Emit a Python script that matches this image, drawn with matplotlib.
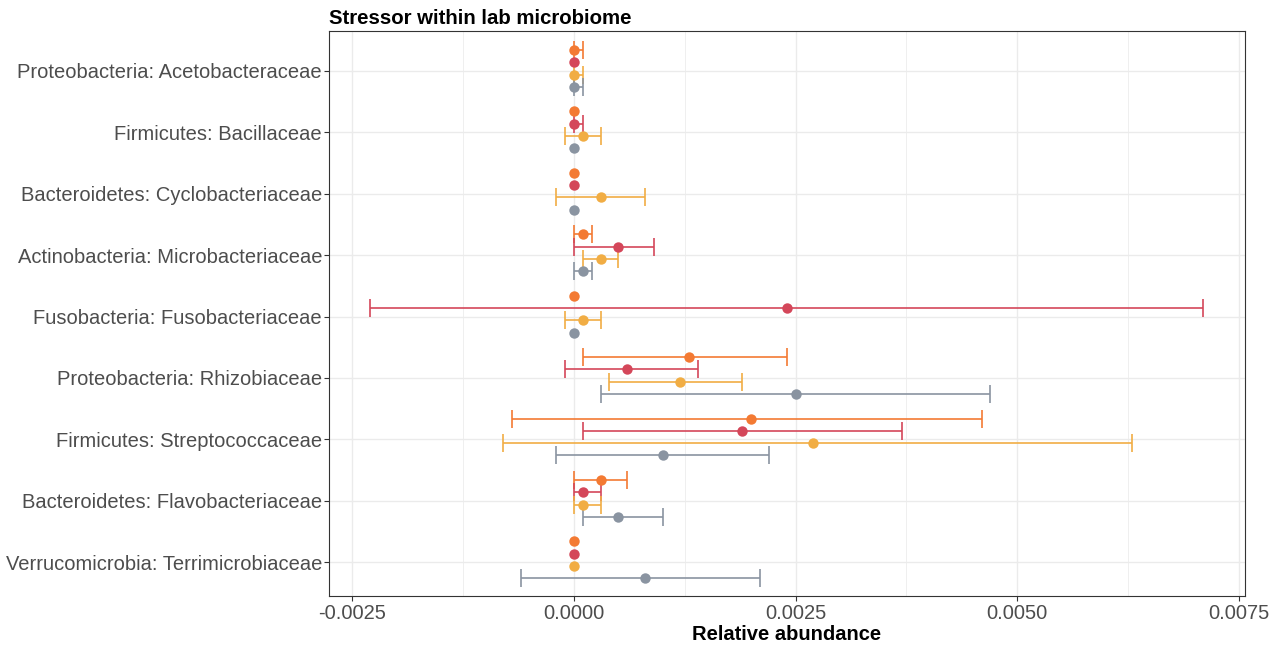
import matplotlib
matplotlib.use("Agg")
import matplotlib.pyplot as plt
import numpy as np

plt.rcParams["font.family"] = ["Liberation Sans", "DejaVu Sans"]

families = [
    "Proteobacteria: Acetobacteraceae",
    "Firmicutes: Bacillaceae",
    "Bacteroidetes: Cyclobacteriaceae",
    "Actinobacteria: Microbacteriaceae",
    "Fusobacteria: Fusobacteriaceae",
    "Proteobacteria: Rhizobiaceae",
    "Firmicutes: Streptococcaceae",
    "Bacteroidetes: Flavobacteriaceae",
    "Verrucomicrobia: Terrimicrobiaceae",
]

# mean, lower and upper bound per treatment group (one value per family, top to bottom)
orange_mean = [0.0, 0.0, 0.0, 0.0001, 0.0, 0.0013, 0.0020, 0.0003, 0.0]
orange_lo = [0.0, 0.0, 0.0, 0.0, 0.0, 0.0001, -0.0007, 0.0, 0.0]
orange_hi = [0.0001, 0.0, 0.0, 0.0002, 0.0, 0.0024, 0.0046, 0.0006, 0.0]

red_mean = [0.0, 0.0, 0.0, 0.0005, 0.0024, 0.0006, 0.0019, 0.0001, 0.0]
red_lo = [0.0, 0.0, 0.0, 0.0, -0.0023, -0.0001, 0.0001, 0.0, 0.0]
red_hi = [0.0, 0.0001, 0.0, 0.0009, 0.0071, 0.0014, 0.0037, 0.0003, 0.0]

yellow_mean = [0.0, 0.0001, 0.0003, 0.0003, 0.0001, 0.0012, 0.0027, 0.0001, 0.0]
yellow_lo = [0.0, -0.0001, -0.0002, 0.0001, -0.0001, 0.0004, -0.0008, 0.0, 0.0]
yellow_hi = [0.0001, 0.0003, 0.0008, 0.0005, 0.0003, 0.0019, 0.0063, 0.0003, 0.0]

gray_mean = [0.0, 0.0, 0.0, 0.0001, 0.0, 0.0025, 0.0010, 0.0005, 0.0008]
gray_lo = [0.0, 0.0, 0.0, 0.0, 0.0, 0.0003, -0.0002, 0.0001, -0.0006]
gray_hi = [0.0001, 0.0, 0.0, 0.0002, 0.0, 0.0047, 0.0022, 0.0010, 0.0021]

series = [
    (orange_mean, orange_lo, orange_hi, "#F37A33", -0.34),
    (red_mean, red_lo, red_hi, "#D4475A", -0.14),
    (yellow_mean, yellow_lo, yellow_hi, "#F1AD44", 0.06),
    (gray_mean, gray_lo, gray_hi, "#8A94A1", 0.26),
]

xticks = [-0.0025, 0.0, 0.0025, 0.005, 0.0075]
xticklabels = ["-0.0025", "0.0000", "0.0025", "0.0050", "0.0075"]

fig = plt.figure(figsize=(12.87, 6.47), dpi=100)
ax = fig.add_axes([0.2556, 0.0788, 0.9674 - 0.2556, 0.9521 - 0.0788])

base = np.arange(len(families))

# background grid (major at ticks, minor halfway between)
for x in np.arange(-0.00375, 0.0076, 0.00125):
    major = any(abs(x - t) < 1e-9 for t in xticks)
    ax.axvline(x, color="#EBEBEB", lw=1.0 if major else 0.55, zorder=0)
for y in base:
    ax.axhline(y, color="#EBEBEB", lw=1.0, zorder=0)

for mean, lo, hi, color, off in series:
    mean = np.asarray(mean)
    lo = np.asarray(lo)
    hi = np.asarray(hi)
    ypos = base + off
    err = np.vstack([mean - lo, hi - mean])
    has_bar = (hi - lo) > 0
    ax.errorbar(mean[has_bar], ypos[has_bar], xerr=err[:, has_bar], fmt="none",
                ecolor=color, elinewidth=1.2, capsize=6.5, capthick=1.2, zorder=2)
    ax.plot(mean, ypos, "o", color=color, markersize=7.5, markeredgewidth=0, zorder=3)

ax.set_xlim(-0.002765, 0.007573)
ax.set_ylim(8.55, -0.65)
ax.set_yticks(base)
ax.set_yticklabels(families)
ax.set_xticks(xticks)
ax.set_xticklabels(xticklabels)

ax.tick_params(axis="both", colors="#333333", labelcolor="#4D4D4D",
               labelsize=14.5, length=3.5, width=0.8)
ax.tick_params(axis="y", pad=1.5)
ax.tick_params(axis="x", pad=2.5)
for sp in ax.spines.values():
    sp.set_color("#333333")
    sp.set_linewidth(0.8)

ax.set_xlabel("Relative abundance", fontsize=14.5, fontweight="bold", labelpad=1)
ax.set_title("Stressor within lab microbiome", fontsize=14.7, fontweight="bold",
             loc="left", pad=5)

fig.savefig("out.png", dpi=100)
